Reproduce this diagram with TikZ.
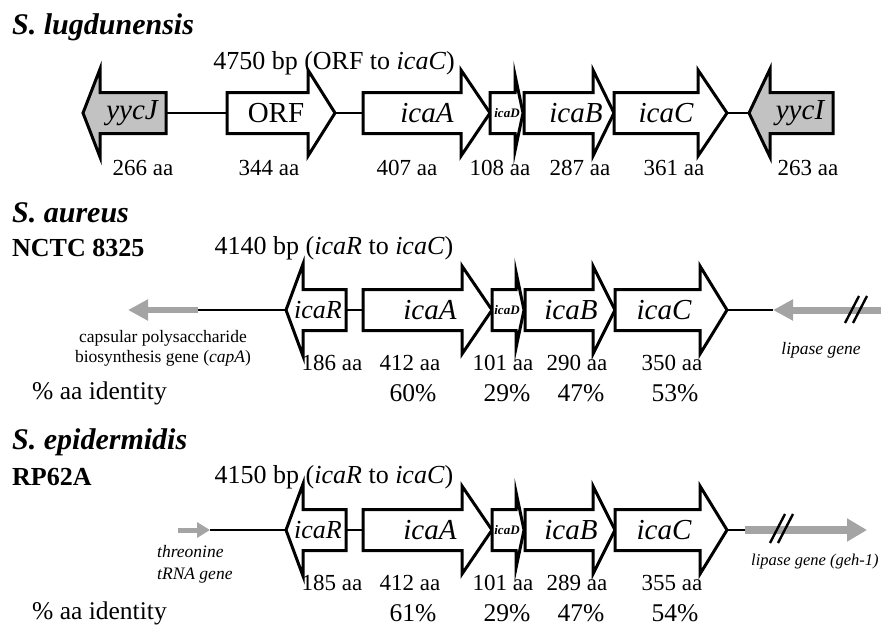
\documentclass[tikz,border=0pt]{standalone}
\usepackage{fontspec}
\setmainfont{Liberation Serif}
\usetikzlibrary{arrows.meta}
\definecolor{genGray}{HTML}{C2C2C2}
\definecolor{flankGray}{HTML}{A4A4A4}

\begin{document}
\begin{tikzpicture}[x=1pt,y=-1pt,inner sep=0pt,
  geneBox/.style={draw=black,line width=3pt,line join=miter},
  link/.style={line width=1.8pt},
  flank/.style={draw=flankGray,line width=6pt,-{Triangle[length=20pt,width=20pt]}},
  cut/.style={line width=2.4pt},
  species/.style={anchor=west,font=\fontsize{30}{32}\selectfont\bfseries\itshape},
  strain/.style={anchor=west,font=\fontsize{26}{28}\selectfont\bfseries},
  span/.style={font=\fontsize{26}{28}\selectfont},
  geneLbl/.style={font=\fontsize{29}{30}\selectfont\itshape},
  aaLbl/.style={font=\fontsize{23}{25}\selectfont},
  idLbl/.style={font=\fontsize{25.5}{27}\selectfont},
  note/.style={font=\fontsize{17.5}{20}\selectfont}]
\useasboundingbox (0,0) rectangle (881,626);

% S. lugdunensis
\node[species] (lug) at (12,27) {S. lugdunensis};
\node[span] (span1) at (334,63) {4750 bp (ORF to \textit{icaC})};
\foreach \g/\t/\b/\p/\h/\f in {yycJ/166/100/83/44/genGray, ORF/227/308/335/43/white,
    icaA/363/461/490/43/white, icaD/490/515/523/38/white, icaB/524/593/614/43/white,
    icaC/614/698/727/43/white, yycI/833/770/749/44/genGray}
  {\coordinate (a\g-t) at (\t,113);
   \coordinate (a\g-p) at (\p,113);}
\draw[link] (ayycJ-t) -- (aORF-t);
\draw[link] (aORF-p) -- (aicaA-t);
\draw[link] (aicaC-p) -- (ayycI-p);
\foreach \g/\t/\b/\p/\h/\f in {yycJ/166/100/83/44/genGray, ORF/227/308/335/43/white,
    icaA/363/461/490/43/white, icaD/490/515/523/38/white, icaB/524/593/614/43/white,
    icaC/614/698/727/43/white, yycI/833/770/749/44/genGray}
  \draw[geneBox,fill=\f] (\t,113-20.5) -- (\b,113-20.5) -- (\b,113-\h) -- (\p,113)
    -- (\b,113+\h) -- (\b,113+20.5) -- (\t,113+20.5) -- cycle;
\node[geneLbl] (lyycJ) at (132,113) {yycJ};
\node[geneLbl,font=\fontsize{29}{30}\selectfont] (lORF) at (276,113) {ORF};
\node[geneLbl] (licaA) at (427,113) {icaA};
\node[geneLbl,font=\fontsize{13}{13}\selectfont\bfseries\itshape] (licaD) at (507,113) {icaD};
\node[geneLbl] (licaB) at (576,113) {icaB};
\node[geneLbl] (licaC) at (666,113) {icaC};
\node[geneLbl] (lyycI) at (800,113) {yycI};
\foreach \x/\n [count=\i] in {143/266, 269/344, 407/407, 500/108, 580/287, 674/361, 808/263}
  \node[aaLbl] (aa1-\i) at (\x,168) {\n\ aa};

% S. aureus
\node[species] (aur) at (12,213) {S. aureus};
\node[strain] (nctc) at (12,248) {NCTC 8325};
\node[span] (span2) at (334,248) {4140 bp (\textit{icaR} to \textit{icaC})};
\coordinate (capA-e) at (198,310);
\coordinate (capA-p) at (128,310);
\coordinate (lip-e) at (895,310);
\coordinate (lip-p) at (773,310);

% S. epidermidis
\node[species] (epi) at (12,442) {S. epidermidis};
\node[strain] (rp) at (12,477) {RP62A};
\node[span] (span3) at (334,477) {4150 bp (\textit{icaR} to \textit{icaC})};
\coordinate (thr-e) at (178,530);
\coordinate (thr-p) at (210,530);
\coordinate (geh-e) at (745,530);
\coordinate (geh-p) at (867,530);

\foreach \r/\y in {b/310, c/530}
  \foreach \g/\t/\b/\p/\h in {icaR/346/303/286/46, icaA/363/462/492/44, icaD/492/516/524/38,
      icaB/525/593/615/44, icaC/615/700/727/44}
  {\coordinate (\r\g-t) at (\t,\y);
   \coordinate (\r\g-p) at (\p,\y);}

\draw[flank] (capA-e) -- (capA-p);
\draw[link] (capA-e) -- (bicaR-p);
\draw[link] (bicaR-t) -- (bicaA-t);
\draw[link] (bicaC-p) -- (lip-p);
\draw[flank,line width=7pt] (lip-e) -- (lip-p);
\draw[cut] (845,323) -- (859,296);
\draw[cut] (853,323) -- (867,296);

\draw[flank,line width=5pt,-{Triangle[length=13pt,width=15pt]}] (thr-e) -- (thr-p);
\draw[link] (thr-p) -- (cicaR-p);
\draw[link] (cicaR-t) -- (cicaA-t);
\draw[link] (cicaC-p) -- (geh-e);
\draw[flank,line width=8pt,-{Triangle[length=20pt,width=22pt]}] (geh-e) -- (geh-p);
\draw[cut] (770,543) -- (785,514);
\draw[cut] (778,543) -- (793,514);

\foreach \r/\y in {b/310, c/530}
{
  \foreach \g/\t/\b/\p/\h in {icaR/346/303/286/46, icaA/363/462/492/44, icaD/492/516/524/38,
      icaB/525/593/615/44, icaC/615/700/727/44}
    \draw[geneBox,fill=white] (\t,\y-20.5) -- (\b,\y-20.5) -- (\b,\y-\h) -- (\p,\y)
      -- (\b,\y+\h) -- (\b,\y+20.5) -- (\t,\y+20.5) -- cycle;
  \node[geneLbl,font=\fontsize{26}{26}\selectfont\itshape] (\r-licaR) at (318,\y) {icaR};
  \node[geneLbl] (\r-licaA) at (430,\y) {icaA};
  \node[geneLbl,font=\fontsize{13}{13}\selectfont\bfseries\itshape] (\r-licaD) at (507,\y) {icaD};
  \node[geneLbl] (\r-licaB) at (571,\y) {icaB};
  \node[geneLbl] (\r-licaC) at (664,\y) {icaC};
}

\node[note,align=center] (capLbl) at (163,348) {capsular polysaccharide\\biosynthesis gene (\textit{capA})};
\node[note,font=\fontsize{17.5}{20}\selectfont\itshape] (lipLbl) at (821,350) {lipase gene};
\foreach \x/\n [count=\i] in {332/186, 410/412, 503/101, 577/290, 672/350}
  \node[aaLbl] (aa2-\i) at (\x,363) {\n\ aa};
\node[idLbl,anchor=west] (id2) at (32,393) {\% aa identity};
\foreach \x/\n [count=\i] in {413/60, 507/29, 581/47, 675/53}
  \node[idLbl] (pc2-\i) at (\x,393) {\n\%};

\node[note,font=\fontsize{17.5}{22}\selectfont\itshape,align=left,anchor=west] (thrLbl) at (157,564) {threonine\\tRNA gene};
\node[note,font=\fontsize{16.5}{20}\selectfont\itshape,anchor=west] (gehLbl) at (751,562) {lipase gene (geh-1)};
\foreach \x/\n [count=\i] in {332/185, 410/412, 503/101, 577/289, 672/355}
  \node[aaLbl] (aa3-\i) at (\x,583) {\n\ aa};
\node[idLbl,anchor=west] (id3) at (32,613) {\% aa identity};
\foreach \x/\n [count=\i] in {413/61, 507/29, 581/47, 675/54}
  \node[idLbl] (pc3-\i) at (\x,613) {\n\%};
\end{tikzpicture}
\end{document}
